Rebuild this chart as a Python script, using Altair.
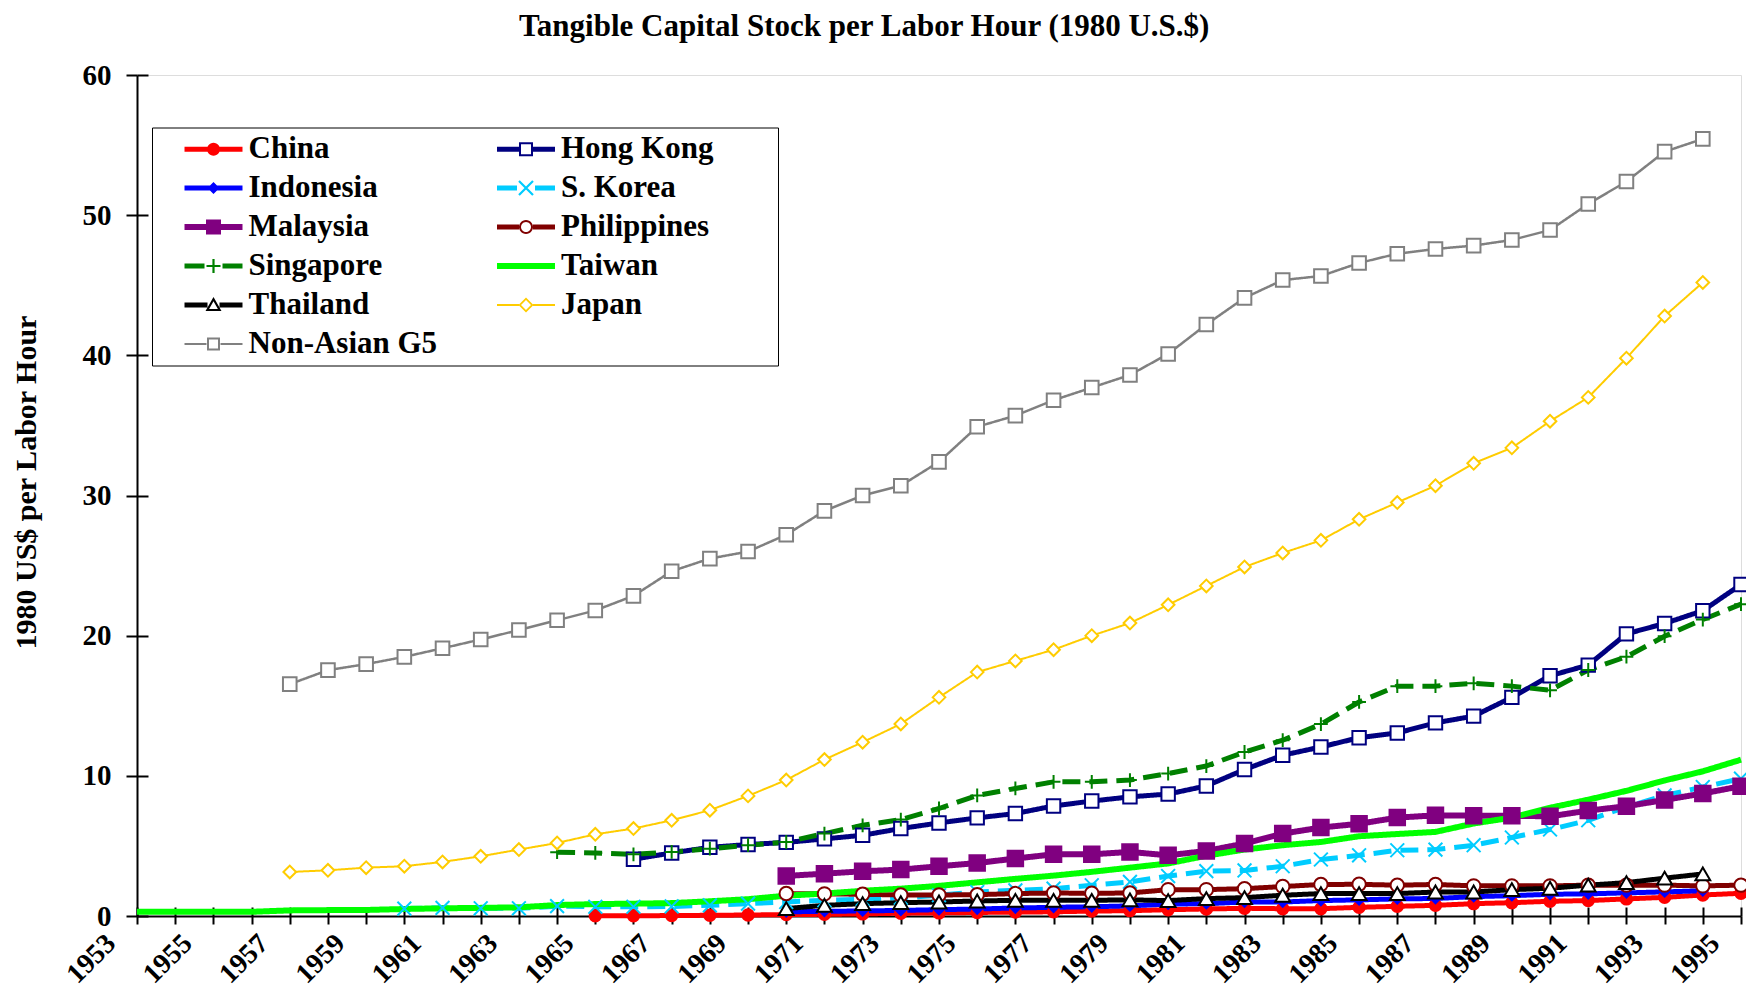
import math
import altair as alt
import pandas as pd

FONT = "Liberation Serif"

# ---------------- data ----------------
series_names = ["China", "Hong Kong", "Indonesia", "S. Korea", "Malaysia",
                "Philippines", "Singapore", "Taiwan", "Thailand", "Japan",
                "Non-Asian G5"]

china_start = 1965
china = [0.02, 0.02, 0.03, 0.05, 0.07, 0.10, 0.12, 0.15, 0.20, 0.22, 0.25,
         0.28, 0.30, 0.35, 0.38, 0.45, 0.50, 0.55, 0.52, 0.52, 0.62, 0.69,
         0.76, 0.88, 0.95, 1.05, 1.10, 1.22, 1.33, 1.50, 1.62]

hongkong_start = 1966
hongkong = [4.05, 4.50, 4.90, 5.10, 5.25, 5.50, 5.76, 6.24, 6.64, 7.00, 7.31,
            7.85, 8.20, 8.50, 8.70, 9.28, 10.45, 11.47, 12.06, 12.72, 13.06,
            13.78, 14.26, 15.60, 17.14, 17.90, 20.13, 20.87, 21.78, 23.65]

indonesia_start = 1970
indonesia = [0.30, 0.33, 0.36, 0.40, 0.45, 0.50, 0.57, 0.62, 0.66, 0.72,
             0.85, 0.88, 1.00, 1.00, 1.10, 1.15, 1.22, 1.25, 1.38, 1.45,
             1.55, 1.58, 1.65, 1.72, 1.80]

skorea_start = 1960
skorea = [0.53, 0.58, 0.55, 0.55, 0.70, 0.66, 0.66, 0.68, 0.76, 0.88, 1.00,
          1.12, 1.20, 1.30, 1.48, 1.71, 1.83, 1.95, 2.19, 2.43, 2.85, 3.20,
          3.25, 3.55, 4.03, 4.33, 4.69, 4.74, 5.05, 5.60, 6.17, 6.83, 7.78,
          8.60, 9.20, 9.80]

malaysia_start = 1970
malaysia = [2.86, 3.02, 3.19, 3.31, 3.55, 3.78, 4.10, 4.40, 4.40, 4.57, 4.33,
            4.64, 5.17, 5.88, 6.31, 6.58, 7.02, 7.18, 7.16, 7.15, 7.11, 7.52,
            7.83, 8.28, 8.74, 9.26]

philippines_start = 1970
philippines = [1.60, 1.58, 1.55, 1.50, 1.50, 1.52, 1.60, 1.64, 1.62, 1.64,
               1.88, 1.88, 1.95, 2.10, 2.25, 2.26, 2.20, 2.25, 2.15, 2.15,
               2.15, 2.20, 2.20, 2.20, 2.15, 2.20]

singapore_start = 1964
singapore = [4.55, 4.50, 4.40, 4.57, 4.80, 5.05, 5.28, 5.88, 6.47, 6.88, 7.67,
             8.60, 9.10, 9.57, 9.57, 9.70, 10.16, 10.70, 11.70, 12.54, 13.69,
             15.27, 16.40, 16.40, 16.60, 16.40, 16.10, 17.55, 18.50, 19.96,
             21.15, 22.25]

taiwan_start = 1953
taiwan = [0.30, 0.30, 0.30, 0.30, 0.40, 0.42, 0.43, 0.50, 0.55, 0.58, 0.62,
          0.78, 0.85, 0.88, 0.92, 1.05, 1.20, 1.45, 1.60, 1.80, 1.95, 2.15,
          2.40, 2.65, 2.88, 3.15, 3.45, 3.75, 4.30, 4.74, 5.05, 5.28, 5.69,
          5.85, 6.00, 6.60, 7.02, 7.72, 8.30, 8.93, 9.67, 10.32, 11.15]

thailand_start = 1970
thailand = [0.53, 0.76, 0.88, 0.95, 1.00, 1.07, 1.12, 1.12, 1.12, 1.15, 1.10,
            1.24, 1.31, 1.48, 1.60, 1.60, 1.60, 1.71, 1.71, 1.88, 1.98, 2.20,
            2.38, 2.70, 3.00]

japan_start = 1957
japan = [3.14, 3.26, 3.45, 3.55, 3.86, 4.26, 4.74, 5.21, 5.83, 6.24, 6.83,
         7.55, 8.57, 9.70, 11.16, 12.40, 13.70, 15.60, 17.40, 18.20, 19.00,
         20.00, 20.90, 22.20, 23.55, 24.90, 25.90, 26.80, 28.30, 29.50, 30.70,
         32.30, 33.40, 35.30, 37.00, 39.80, 42.80, 45.20]

g5_start = 1957
g5 = [16.54, 17.54, 17.97, 18.49, 19.10, 19.73, 20.40, 21.10, 21.80, 22.84,
      24.60, 25.50, 26.00, 27.20, 28.90, 30.00, 30.70, 32.40, 34.90, 35.70,
      36.80, 37.70, 38.60, 40.10, 42.20, 44.10, 45.37, 45.66, 46.59, 47.25,
      47.59, 47.83, 48.23, 48.94, 50.80, 52.40, 54.53, 55.44]

series_data = [
    ("China", china_start, china),
    ("Hong Kong", hongkong_start, hongkong),
    ("Indonesia", indonesia_start, indonesia),
    ("S. Korea", skorea_start, skorea),
    ("Malaysia", malaysia_start, malaysia),
    ("Philippines", philippines_start, philippines),
    ("Singapore", singapore_start, singapore),
    ("Taiwan", taiwan_start, taiwan),
    ("Thailand", thailand_start, thailand),
    ("Japan", japan_start, japan),
    ("Non-Asian G5", g5_start, g5),
]

title_text = "Tangible Capital Stock per Labor Hour (1980 U.S.$)"
y_title_text = "1980 US$ per Labor Hour"
year_ticks = list(range(1953, 1996))
y_ticks = [0, 10, 20, 30, 40, 50, 60]

rows = []
for k, (name, start, vals) in enumerate(series_data):
    for i, v in enumerate(vals):
        rows.append({"series": name, "year": start + i, "value": v, "k": k})
df = pd.DataFrame(rows)

# ---------------- styles ----------------
colors = ["#FF0000", "#000080", "#0000FF", "#00CCFF", "#800080", "#800000",
          "#008000", "#00FF00", "#000000", "#FFCC00", "#808080"]
line_widths = [5, 5, 5, 5, 6, 5, 5, 6, 5, 2, 2.5]
dashes = [[1, 0], [1, 0], [1, 0], [18, 9], [1, 0], [1, 0], [18, 9], [1, 0],
          [1, 0], [1, 0], [1, 0]]
PLUS = "M-1,0L1,0M0,-1L0,1"
XMARK = "M-1,-1L1,1M-1,1L1,-1"
shapes = ["circle", "square", "diamond", XMARK, "square", "circle", PLUS,
          "circle", "triangle-up", "diamond", "square"]
fills = ["#FF0000", "white", "#0000FF", "transparent", "#800080", "white",
         "transparent", "transparent", "white", "white", "white"]
sizes = [130, 180, 90, 190, 240, 180, 190, 10, 220, 160, 185]

# ---------------- legend symbols (line + marker) ----------------
U = 15.0  # px per path unit (legend symbolSize 900 -> 30px)


def f(v):
    s = f"{v / U:.3f}".rstrip("0").rstrip(".")
    return "0" if s in ("-0", "") else s


def area(pts):
    return sum(pts[i][0] * pts[(i + 1) % len(pts)][1] - pts[(i + 1) % len(pts)][0] * pts[i][1]
               for i in range(len(pts)))


def poly(pts, cw=True):
    if (area(pts) > 0) != cw:
        pts = pts[::-1]
    return "M" + "L".join(f"{f(x)},{f(y)}" for x, y in pts) + "Z"


def rect(x0, y0, x1, y1, cw=True):
    return poly([(x0, y0), (x1, y0), (x1, y1), (x0, y1)], cw)


def circ(r, cw=True, n=28):
    return poly([(r * math.cos(2 * math.pi * i / n), r * math.sin(2 * math.pi * i / n))
                 for i in range(n)], cw)


def diamond(r, cw=True):
    return poly([(0, -r), (r, 0), (0, r), (-r, 0)], cw)


def bar(ax, ay, bx, by, t):
    dx, dy = bx - ax, by - ay
    L = math.hypot(dx, dy)
    nx, ny = -dy / L * t, dx / L * t
    return poly([(ax + nx, ay + ny), (bx + nx, by + ny), (bx - nx, by - ny), (ax - nx, ay - ny)])


W = 29
RIGHT_EDGE = 246  # empty sub-path that widens the right legend column to the reference box
legend_paths = {
    "China": rect(-W, -2.5, W, 2.5) + circ(6.5),
    "Hong Kong": rect(-W, -2.5, -7, 2.5) + rect(7, -2.5, W, 2.5)
    + rect(-7, -7, 7, 7) + rect(-5, -5, 5, 5, cw=False),
    "Indonesia": rect(-W, -2.5, W, 2.5) + diamond(6),
    "S. Korea": rect(-W, -2.5, -9, 2.5) + rect(9, -2.5, W, 2.5)
    + bar(-7, -7, 7, 7, 1.1) + bar(-7, 7, 7, -7, 1.1),
    "Malaysia": rect(-W, -3, W, 3) + rect(-7.5, -7.5, 7.5, 7.5),
    "Philippines": rect(-W, -2.5, -7, 2.5) + rect(7, -2.5, W, 2.5)
    + circ(7) + circ(5, cw=False) + f"M{f(RIGHT_EDGE)},0Z",
    "Singapore": rect(-W, -2.5, -9, 2.5) + rect(9, -2.5, W, 2.5)
    + rect(-7, -1.1, 7, 1.1) + rect(-1.1, -7, 1.1, 7),
    "Taiwan": rect(-W, -3, W, 3),
    "Thailand": rect(-W, -2.5, -6, 2.5) + rect(6, -2.5, W, 2.5)
    + poly([(0, -8), (8, 6), (-8, 6)])
    + poly([(0, 1.33 - 9.33 * 0.55), (8 * 0.55, 1.33 + 4.67 * 0.55),
            (-8 * 0.55, 1.33 + 4.67 * 0.55)], cw=False),
    "Japan": rect(-W, -1, -7, 1) + rect(7, -1, W, 1) + diamond(7.5) + diamond(5, cw=False),
    "Non-Asian G5": rect(-W, -1, -7, 1) + rect(7, -1, W, 1)
    + rect(-6.5, -6.5, 6.5, 6.5) + rect(-4.5, -4.5, 4.5, 4.5, cw=False),
}
legend_shapes = [legend_paths[n] for n in series_names]

PW, PH = 1604, 841


def make_legend():
    return alt.Legend(
        title=None, orient="none", legendX=15, legendY=52.5, columns=2,
        direction="horizontal",
        symbolSize=900, symbolStrokeWidth=0, symbolOpacity=1, symbolOffset=40,
        labelOffset=19.5, labelFont=FONT, labelFontSize=31, labelFontWeight="bold",
        labelColor="black", labelLimit=600, rowPadding=7,
        columnPadding=32.5, padding=6, strokeColor="black", fillColor="white",
    )


base = alt.Chart(df)

x_main = alt.X("year:Q", scale=alt.Scale(domain=[1953, 1995], nice=False, zero=False),
               axis=alt.Axis(orient="bottom", values=year_ticks, format="d",
                             labelExpr="datum.value % 2 == 1 ? datum.label : ''",
                             tickSize=8, tickWidth=2, tickColor="black",
                             domainColor="black", domainWidth=2,
                             labelAngle=315, labelAlign="right", labelBaseline="middle",
                             labelOffset=-26, labelPadding=15, labelFont=FONT,
                             labelFontWeight="bold", labelFontSize=28, labelColor="black",
                             labelOverlap=False, labelBound=False, labelFlush=False,
                             grid=False, title=None))
y_main = alt.Y("value:Q", scale=alt.Scale(domain=[0, 60], nice=False, zero=True),
               axis=alt.Axis(orient="left", values=y_ticks, tickSize=11, tickWidth=2,
                             tickColor="black", domainColor="black", domainWidth=2,
                             labelPadding=15, labelFont=FONT, labelFontWeight="bold",
                             labelFontSize=29, labelColor="black", grid=False,
                             title=y_title_text, titleAngle=270,
                             titleAlign="left", titleBaseline="alphabetic",
                             titleX=-102, titleY=574, titleFont=FONT, titleFontSize=30,
                             titleFontWeight="bold", titleColor="black"))

lines = base.mark_line(strokeJoin="round", strokeCap="butt").encode(
    x=x_main,
    y=y_main,
    stroke=alt.Stroke("series:N", scale=alt.Scale(domain=series_names, range=colors),
                      legend=None),
    strokeWidth=alt.StrokeWidth("series:N",
                                scale=alt.Scale(type="ordinal", domain=series_names, range=line_widths),
                                legend=None),
    strokeDash=alt.StrokeDash("series:N", scale=alt.Scale(domain=series_names, range=dashes),
                              legend=None),
    detail="k:O",
)

# inner tick marks (pointing into the plot); the top one also carries the chart title
x_in = alt.X("year:Q", axis=alt.Axis(orient="top", offset=-PH, values=year_ticks, labels=False,
                                     domain=False, tickSize=9, tickWidth=2, tickColor="black",
                                     grid=False, title=title_text, titleX=726.7, titleY=-881,
                                     titleAngle=0, titleAlign="center",
                                     titleBaseline="alphabetic", titleFont=FONT,
                                     titleFontSize=31, titleFontWeight="bold",
                                     titleColor="black"))
y_in = alt.Y("value:Q", axis=alt.Axis(orient="right", offset=-PW, values=y_ticks, labels=False,
                                      domain=False, tickSize=11, tickWidth=2, tickColor="black",
                                      grid=False, title=None))

points = base.transform_filter("datum.series != 'Taiwan'").mark_point(opacity=1).encode(
    x=x_in,
    y=y_in,
    shape=alt.Shape("series:N", scale=alt.Scale(domain=series_names, range=shapes), legend=None),
    fill=alt.Fill("series:N", scale=alt.Scale(domain=series_names, range=fills), legend=None),
    stroke=alt.Stroke("series:N", scale=alt.Scale(domain=series_names, range=colors), legend=None),
    size=alt.Size("series:N", scale=alt.Scale(type="ordinal", domain=series_names, range=sizes),
                  legend=None),
    strokeWidth=alt.value(2),
)

# legend carrier: no rows, only colour + symbol scales and their (merged) legend
legend_layer = base.transform_filter("datum.k < 0").mark_point(filled=True).encode(
    x=alt.X("year:Q", axis=None),
    y=alt.Y("value:Q", axis=None),
    color=alt.Color("series:N", scale=alt.Scale(domain=series_names, range=colors),
                    legend=make_legend()),
    shape=alt.Shape("series:N", scale=alt.Scale(domain=series_names, range=legend_shapes),
                    legend=make_legend()),
)

chart = alt.layer(lines, points, legend_layer).resolve_axis(
    x="independent", y="independent"
).resolve_scale(shape="independent", color="independent").properties(
    width=PW, height=PH,
    autosize=alt.AutoSizeParams(type="none"),
    padding={"left": 129, "top": 67, "right": 5, "bottom": 73},
).configure_view(stroke=None).configure_legend(strokeWidth=2).configure(background="white")

chart.save("out.html", embed_options={"renderer": "svg", "actions": False})
